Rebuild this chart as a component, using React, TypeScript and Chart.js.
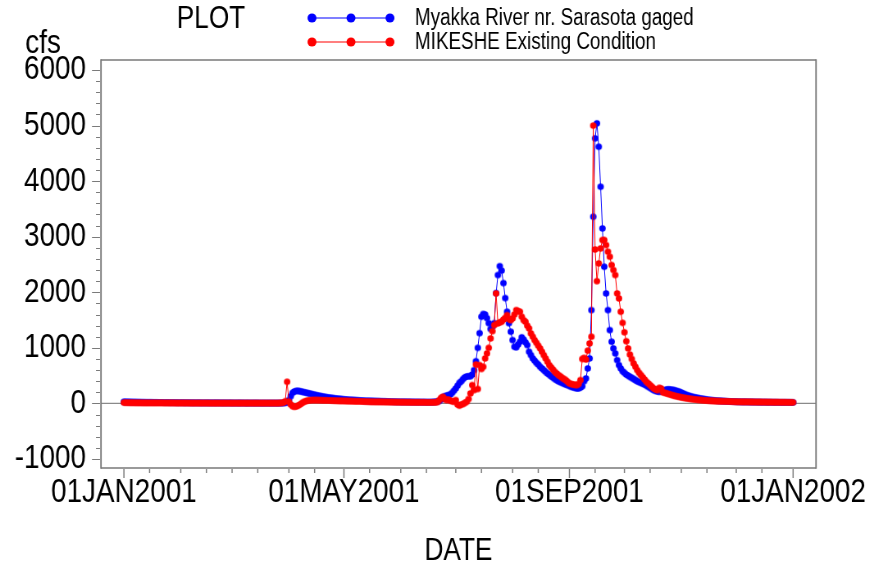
import React, { useEffect, useRef } from 'react';
import { Chart, registerables } from 'chart.js';

Chart.register(...registerables);

// ---- data (day 0 = 01JAN2001, daily values in cfs) ----
const xTickDays = [0, 120, 243, 365];
const xTickLabels = ['01JAN2001', '01MAY2001', '01SEP2001', '01JAN2002'];
const monthStartDays = [0, 31, 59, 90, 120, 151, 181, 212, 243, 273, 304, 334, 365];
const yTickValues = [-1000, 0, 1000, 2000, 3000, 4000, 5000, 6000];
const yMinorStep = 200;
const seriesNames = ['Myakka River nr. Sarasota gaged', 'MIKESHE Existing Condition'];
const titleText = 'PLOT';
const yUnit = 'cfs';
const xTitle = 'DATE';

const gagedFlow = [
  30, 28, 27, 26, 25, 24, 24, 23, 22, 22,
  21, 21, 20, 20, 19, 19, 18, 18, 18, 17,
  17, 17, 16, 16, 16, 15, 15, 15, 15, 14,
  14, 14, 14, 13, 13, 13, 13, 12, 12, 12,
  12, 12, 11, 11, 11, 11, 11, 10, 10, 10,
  10, 10, 10, 9, 9, 9, 9, 9, 9, 8,
  8, 8, 8, 8, 8, 8, 7, 7, 7, 7,
  7, 7, 7, 7, 6, 6, 6, 6, 6, 6,
  6, 6, 6, 6, 6, 6, 6, 8, 12, 20,
  60, 130, 190, 215, 225, 225, 220, 212, 204, 196,
  188, 180, 172, 164, 156, 148, 141, 134, 127, 121,
  115, 110, 105, 100, 96, 92, 88, 84, 80, 77,
  74, 71, 68, 65, 63, 61, 59, 57, 55, 53,
  51, 49, 47, 46, 45, 44, 43, 42, 41, 40,
  39, 38, 37, 36, 35, 34, 33, 32, 31, 30,
  30, 29, 29, 28, 28, 27, 27, 26, 26, 25,
  25, 25, 24, 24, 24, 23, 23, 23, 24, 26,
  30, 35, 45, 70, 110, 130, 140, 150, 160, 190,
  230, 270, 320, 370, 400, 440, 470, 485, 490, 490,
  520, 600, 760, 1000, 1265, 1560, 1610, 1600, 1535, 1445,
  1340, 1380, 1445, 1985, 2310, 2470, 2390, 2165, 1895, 1650,
  1445, 1290, 1140, 1020, 1010, 1060, 1110, 1190, 1150, 1100,
  1050, 930, 870, 810, 770, 730, 700, 660, 630, 600,
  570, 540, 515, 490, 465, 440, 420, 400, 385, 370,
  355, 340, 330, 315, 300, 290, 280, 270, 270, 285,
  310, 400, 450, 630, 810, 1680, 3360, 4770, 5040, 4620,
  3900, 3150, 2460, 1980, 1680, 1320, 1110, 990, 900, 780,
  690, 630, 580, 550, 520, 500, 480, 460, 440, 420,
  400, 385, 370, 355, 340, 320, 300, 280, 260, 240,
  225, 215, 210, 215, 225, 240, 250, 255, 250, 245,
  240, 230, 220, 210, 195, 180, 165, 150, 140, 130,
  120, 112, 105, 98, 92, 86, 80, 75, 70, 65,
  60, 57, 54, 51, 48, 46, 44, 42, 40, 38,
  36, 35, 34, 33, 32, 31, 30, 29, 28, 28,
  27, 27, 26, 26, 25, 25, 24, 24, 23, 23,
  23, 22, 22, 22, 21, 21, 21, 20, 20, 20,
  20, 19, 19, 19, 18, 18,
];

const mikesheFlow = [
  15, 14, 14, 13, 13, 13, 12, 12, 12, 12,
  11, 11, 11, 11, 10, 10, 10, 10, 10, 10,
  10, 10, 9, 9, 9, 9, 9, 9, 8, 8,
  8, 8, 8, 8, 8, 8, 7, 7, 7, 7,
  7, 7, 7, 7, 7, 7, 7, 6, 6, 6,
  6, 6, 6, 6, 6, 6, 6, 6, 6, 6,
  6, 6, 6, 6, 6, 6, 6, 6, 6, 6,
  6, 6, 6, 6, 6, 6, 6, 6, 6, 6,
  6, 6, 6, 6, 6, 8, 10, 15, 40, 390,
  30, -20, -50, -60, -55, -40, -20, 5, 25, 40,
  50, 55, 58, 60, 60, 60, 59, 58, 57, 56,
  55, 54, 53, 52, 51, 50, 49, 48, 47, 46,
  45, 44, 43, 42, 41, 40, 39, 38, 37, 36,
  35, 34, 33, 32, 31, 30, 30, 29, 29, 28,
  28, 27, 27, 26, 26, 25, 25, 24, 24, 23,
  23, 22, 22, 22, 21, 21, 21, 20, 20, 20,
  20, 19, 19, 19, 19, 18, 18, 18, 18, 19,
  20, 25, 60, 100, 120, 80, 60, 70, 50, 40,
  30, 60, -20, -40, -20, -10, 10, 30, 80, 180,
  330, 240, 700, 260, 690, 620, 660, 810, 900, 1000,
  1170, 1300, 1410, 1980, 1440, 1460, 1470, 1510, 1540, 1590,
  1520, 1500, 1530, 1600, 1680, 1660, 1650, 1560, 1500, 1470,
  1400, 1350, 1260, 1200, 1140, 1090, 1040, 990, 930, 870,
  810, 750, 690, 650, 610, 570, 540, 510, 490, 460,
  440, 420, 390, 360, 350, 340, 335, 330, 350, 420,
  800, 820, 790, 950, 1080, 1200, 5000, 2770, 2200, 2520,
  2790, 2940, 2940, 2850, 2730, 2640, 2490, 2400, 2310, 1980,
  1890, 1650, 1450, 1280, 1120, 990, 880, 800, 720, 660,
  600, 550, 510, 470, 430, 390, 360, 330, 300, 270,
  250, 240, 280, 270, 200, 190, 180, 170, 160, 150,
  140, 132, 124, 117, 110, 104, 98, 92, 87, 82,
  78, 74, 70, 66, 63, 60, 57, 54, 52, 50,
  48, 46, 44, 42, 41, 40, 39, 38, 37, 36,
  35, 34, 33, 32, 31, 30, 30, 29, 29, 28,
  28, 27, 27, 26, 26, 25, 25, 25, 24, 24,
  24, 23, 23, 23, 22, 22, 22, 22, 21, 21,
  21, 21, 20, 20, 20, 20,
];

const BLUE = '#0000ff';
const RED = '#ff0000';
const AXIS_GRAY = '#7a7a7a';
const FONT = "'Liberation Sans', Arial, sans-serif";

// The reference uses a narrow sans face; emulate it by drawing on a wider
// backing canvas that is displayed horizontally compressed.
const VIEW_W = 874;
const VIEW_H = 569;
const SX = 0.82;
const CANVAS_W = Math.round(VIEW_W / SX);
const sx = (px: number) => px / SX; // view px -> canvas px (horizontal)

const decorPlugin = {
  id: 'decor',
  beforeDatasetsDraw(chart: any) {
    const { ctx, chartArea: a, scales } = chart;
    const y0 = scales.y.getPixelForValue(0);
    ctx.save();
    ctx.strokeStyle = '#8a8a8a';
    ctx.lineWidth = 1.2;
    ctx.beginPath();
    ctx.moveTo(a.left, y0);
    ctx.lineTo(a.right, y0);
    ctx.stroke();
    ctx.restore();
  },
  afterDraw(chart: any) {
    const { ctx, chartArea: a, scales } = chart;
    const xs = scales.x;
    const ys = scales.y;
    ctx.save();
    // frame
    ctx.strokeStyle = AXIS_GRAY;
    ctx.lineWidth = 1.5;
    ctx.beginPath();
    ctx.moveTo(a.left, a.top);
    ctx.lineTo(a.right, a.top);
    ctx.moveTo(a.left, a.bottom);
    ctx.lineTo(a.right, a.bottom);
    ctx.stroke();
    ctx.lineWidth = 1.5 / SX;
    ctx.beginPath();
    ctx.moveTo(a.left, a.top - 0.75);
    ctx.lineTo(a.left, a.bottom + 0.75);
    ctx.moveTo(a.right, a.top - 0.75);
    ctx.lineTo(a.right, a.bottom + 0.75);
    ctx.stroke();
    // y tick marks
    ctx.lineWidth = 1.2;
    ctx.beginPath();
    const yLo = yTickValues[0];
    const yHi = yTickValues[yTickValues.length - 1];
    for (let v = yLo; v <= yHi; v += yMinorStep) {
      const p = Math.round(ys.getPixelForValue(v)) + 0.5;
      const major = yTickValues.includes(v);
      ctx.moveTo(a.left - sx(1), p);
      ctx.lineTo(a.left - sx(major ? 9 : 5), p);
    }
    ctx.stroke();
    // x tick marks: 1st and 15th of each month
    ctx.lineWidth = 1.2 / SX;
    ctx.beginPath();
    for (let i = 0; i < monthStartDays.length; i++) {
      const d = monthStartDays[i];
      const major = xTickDays.includes(d);
      const p = xs.getPixelForValue(d);
      ctx.moveTo(p, a.bottom + 1);
      ctx.lineTo(p, a.bottom + (major ? 10 : 5));
      if (i < monthStartDays.length - 1) {
        const q = xs.getPixelForValue(d + 14);
        ctx.moveTo(q, a.bottom + 1);
        ctx.lineTo(q, a.bottom + 5);
      }
    }
    ctx.stroke();

    // texts
    ctx.fillStyle = '#000';
    ctx.textBaseline = 'middle';
    ctx.textAlign = 'center';
    ctx.font = `32px ${FONT}`;
    ctx.fillText(titleText, sx(211), 19);
    ctx.font = `34px ${FONT}`;
    ctx.fillText(yUnit, sx(43), 44);

    // legend
    const colors = [BLUE, RED];
    const rows = [18, 42];
    for (let i = 0; i < 2; i++) {
      const yy = rows[i];
      ctx.strokeStyle = colors[i];
      ctx.fillStyle = colors[i];
      ctx.lineWidth = 1.2;
      ctx.beginPath();
      ctx.moveTo(sx(312), yy);
      ctx.lineTo(sx(390), yy);
      ctx.stroke();
      for (const mx of [312, 351, 390]) {
        ctx.beginPath();
        ctx.ellipse(sx(mx), yy, sx(4.5), 4.5, 0, 0, Math.PI * 2);
        ctx.fill();
      }
      ctx.fillStyle = '#000';
      ctx.textAlign = 'left';
      ctx.font = `23px ${FONT}`;
      ctx.fillText(seriesNames[i], sx(415), yy + 1);
    }
    ctx.restore();
  },
};

export default function App() {
  const ref = useRef<HTMLCanvasElement | null>(null);
  useEffect(() => {
    if (!ref.current) return;
    const pointStyleFor = (color: string) => {
      const c = document.createElement('canvas');
      const r = 3.2;
      c.width = Math.ceil(2 * sx(r)) + 2;
      c.height = Math.ceil(2 * r) + 2;
      const g = c.getContext('2d')!;
      g.fillStyle = color;
      g.beginPath();
      g.ellipse(c.width / 2, c.height / 2, sx(r), r, 0, 0, Math.PI * 2);
      g.fill();
      return c;
    };
    const chart = new Chart(ref.current, {
      type: 'line',
      data: {
        datasets: [
          {
            label: seriesNames[0],
            data: gagedFlow.map((v, i) => ({ x: i, y: v })),
            borderColor: BLUE,
            backgroundColor: BLUE,
            borderWidth: 1,
            pointStyle: pointStyleFor(BLUE),
            pointRadius: 3,
            pointBorderWidth: 0,
            pointBackgroundColor: BLUE,
            tension: 0,
            order: 1,
          },
          {
            label: seriesNames[1],
            data: mikesheFlow.map((v, i) => ({ x: i, y: v })),
            borderColor: RED,
            backgroundColor: RED,
            borderWidth: 1,
            pointStyle: pointStyleFor(RED),
            pointRadius: 3,
            pointBorderWidth: 0,
            pointBackgroundColor: RED,
            tension: 0,
            order: 0,
          },
        ],
      },
      options: {
        animation: false,
        responsive: false,
        devicePixelRatio: 1,
        layout: { padding: { top: 60, right: sx(58), left: 0, bottom: 0 } },
        plugins: { legend: { display: false }, tooltip: { enabled: false }, title: { display: false } },
        scales: {
          x: {
            type: 'linear',
            min: -12.5,
            max: 377.5,
            grid: { display: false, drawTicks: false },
            border: { display: false },
            afterBuildTicks: (s: any) => {
              s.ticks = xTickDays.map((v) => ({ value: v }));
            },
            afterFit: (s: any) => {
              s.height = 101;
              s.paddingLeft = 0;
              s.paddingRight = 0;
            },
            ticks: {
              autoSkip: false,
              maxRotation: 0,
              minRotation: 0,
              padding: 4,
              color: '#000',
              font: { family: FONT, size: 34 },
              callback: (v: any) => {
                const i = xTickDays.indexOf(Number(v));
                return i >= 0 ? xTickLabels[i] : '';
              },
            },
            title: {
              display: true,
              text: xTitle,
              color: '#000',
              font: { family: FONT, size: 32, lineHeight: 1.1 },
              padding: { top: 0, bottom: 0 },
            },
          },
          y: {
            type: 'linear',
            min: -1162,
            max: 6180,
            grid: { display: false, drawTicks: false },
            border: { display: false },
            afterBuildTicks: (s: any) => {
              s.ticks = yTickValues.map((v) => ({ value: v }));
            },
            afterFit: (s: any) => {
              s.width = sx(101);
              s.paddingTop = 0;
              s.paddingBottom = 0;
            },
            ticks: {
              padding: sx(15),
              color: '#000',
              font: { family: FONT, size: 34 },
              callback: (v: any) => String(v),
            },
          },
        },
      },
      plugins: [decorPlugin],
    } as any);
    return () => chart.destroy();
  }, []);
  return (
    <div style={{ position: 'absolute', left: 0, top: 0, width: VIEW_W, height: VIEW_H, background: '#fff', overflow: 'hidden' }}>
      <canvas
        ref={ref}
        width={CANVAS_W}
        height={VIEW_H}
        style={{ width: VIEW_W, height: VIEW_H, display: 'block' }}
      />
    </div>
  );
}
